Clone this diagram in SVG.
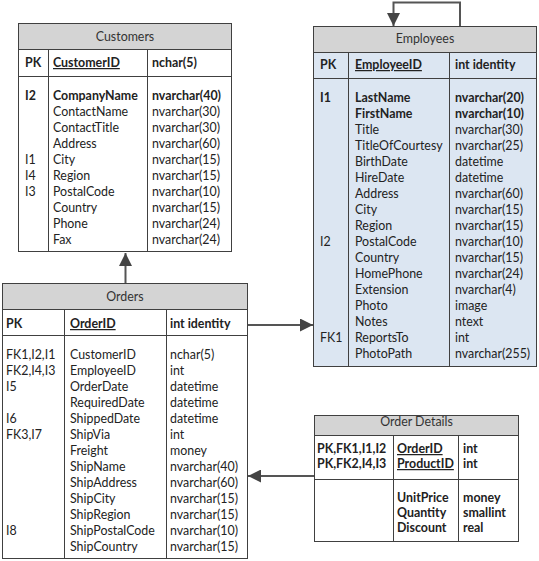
<svg xmlns="http://www.w3.org/2000/svg" width="539" height="561" viewBox="0 0 539 561">
<defs>
<style>
text{font-family:Lato,"Liberation Sans",sans-serif;font-size:12.4px;fill:#222;}
.t{text-anchor:middle;fill:#333;}
.b{font-weight:bold;}
.u{text-decoration:underline;}
.box{fill:#fff;stroke:#404040;stroke-width:1;}
.blue{fill:#dce6f2;}
.hdr{fill:#d4d4d4;stroke:#404040;stroke-width:1;}
.ln{stroke:#404040;stroke-width:1;fill:none;}
.con{stroke:#555;stroke-width:2;fill:none;marker-end:url(#ah);}
</style>
<marker id="ah" markerUnits="userSpaceOnUse" markerWidth="13" markerHeight="13" refX="13" refY="6.5" orient="auto">
<path d="M0,0 L13,6.5 L0,13 Z" fill="#444"/>
</marker>
</defs>

<g id="customers">
<rect class="box" x="18.5" y="23.5" width="213" height="228"/>
<rect class="hdr" x="18.5" y="23.5" width="213" height="26"/>
<line class="ln" x1="18.5" y1="76.5" x2="231.5" y2="76.5"/>
<line class="ln" x1="48.5" y1="49.5" x2="48.5" y2="251.5"/>
<line class="ln" x1="147.5" y1="49.5" x2="147.5" y2="251.5"/>
<text class="t" x="125" y="41">Customers</text>
<text class="b" x="25" y="67">PK</text>
<text class="b u" x="53" y="67">CustomerID</text>
<text class="b" x="152" y="67">nchar(5)</text>
<text class="b" x="25" y="100">I2</text>
<text x="25" y="164">I1</text>
<text x="25" y="180">I4</text>
<text x="25" y="196">I3</text>
<text class="b" x="53" y="100">CompanyName</text>
<text x="53" y="116">ContactName</text>
<text x="53" y="132">ContactTitle</text>
<text x="53" y="148">Address</text>
<text x="53" y="164">City</text>
<text x="53" y="180">Region</text>
<text x="53" y="196">PostalCode</text>
<text x="53" y="212">Country</text>
<text x="53" y="228">Phone</text>
<text x="53" y="244">Fax</text>
<text class="b" x="152" y="100">nvarchar(40)</text>
<text x="152" y="116">nvarchar(30)</text>
<text x="152" y="132">nvarchar(30)</text>
<text x="152" y="148">nvarchar(60)</text>
<text x="152" y="164">nvarchar(15)</text>
<text x="152" y="180">nvarchar(15)</text>
<text x="152" y="196">nvarchar(10)</text>
<text x="152" y="212">nvarchar(15)</text>
<text x="152" y="228">nvarchar(24)</text>
<text x="152" y="244">nvarchar(24)</text>
</g>

<g id="employees">
<rect class="box blue" x="313.5" y="26.5" width="223" height="340"/>
<rect class="hdr" x="313.5" y="26.5" width="223" height="26"/>
<line class="ln" x1="313.5" y1="78.5" x2="536.5" y2="78.5"/>
<line class="ln" x1="348.5" y1="52.5" x2="348.5" y2="366.5"/>
<line class="ln" x1="449.5" y1="52.5" x2="449.5" y2="366.5"/>
<text class="t" x="425" y="43">Employees</text>
<text class="b" x="320" y="69">PK</text>
<text class="b u" x="355" y="69">EmployeeID</text>
<text class="b" x="455" y="69">int identity</text>
<text class="b" x="320" y="102">I1</text>
<text x="320" y="246">I2</text>
<text x="320" y="342">FK1</text>
<text class="b" x="355" y="102">LastName</text>
<text class="b" x="355" y="118">FirstName</text>
<text x="355" y="134">Title</text>
<text x="355" y="150">TitleOfCourtesy</text>
<text x="355" y="166">BirthDate</text>
<text x="355" y="182">HireDate</text>
<text x="355" y="198">Address</text>
<text x="355" y="214">City</text>
<text x="355" y="230">Region</text>
<text x="355" y="246">PostalCode</text>
<text x="355" y="262">Country</text>
<text x="355" y="278">HomePhone</text>
<text x="355" y="294">Extension</text>
<text x="355" y="310">Photo</text>
<text x="355" y="326">Notes</text>
<text x="355" y="342">ReportsTo</text>
<text x="355" y="358">PhotoPath</text>
<text class="b" x="455" y="102">nvarchar(20)</text>
<text class="b" x="455" y="118">nvarchar(10)</text>
<text x="455" y="134">nvarchar(30)</text>
<text x="455" y="150">nvarchar(25)</text>
<text x="455" y="166">datetime</text>
<text x="455" y="182">datetime</text>
<text x="455" y="198">nvarchar(60)</text>
<text x="455" y="214">nvarchar(15)</text>
<text x="455" y="230">nvarchar(15)</text>
<text x="455" y="246">nvarchar(10)</text>
<text x="455" y="262">nvarchar(15)</text>
<text x="455" y="278">nvarchar(24)</text>
<text x="455" y="294">nvarchar(4)</text>
<text x="455" y="310">image</text>
<text x="455" y="326">ntext</text>
<text x="455" y="342">int</text>
<text x="455" y="358">nvarchar(255)</text>
</g>

<g id="orders">
<rect class="box" x="2.5" y="283.5" width="245" height="275"/>
<rect class="hdr" x="2.5" y="283.5" width="245" height="26"/>
<line class="ln" x1="2.5" y1="335.5" x2="247.5" y2="335.5"/>
<line class="ln" x1="64.5" y1="309.5" x2="64.5" y2="558.5"/>
<line class="ln" x1="166.5" y1="309.5" x2="166.5" y2="558.5"/>
<text class="t" x="125" y="301">Orders</text>
<text class="b" x="6" y="328">PK</text>
<text class="b u" x="70" y="328">OrderID</text>
<text class="b" x="170" y="328">int identity</text>
<text x="6" y="359">FK1,I2,I1</text>
<text x="6" y="375">FK2,I4,I3</text>
<text x="6" y="391">I5</text>
<text x="6" y="423">I6</text>
<text x="6" y="439">FK3,I7</text>
<text x="6" y="535">I8</text>
<text x="70" y="359">CustomerID</text>
<text x="70" y="375">EmployeeID</text>
<text x="70" y="391">OrderDate</text>
<text x="70" y="407">RequiredDate</text>
<text x="70" y="423">ShippedDate</text>
<text x="70" y="439">ShipVia</text>
<text x="70" y="455">Freight</text>
<text x="70" y="471">ShipName</text>
<text x="70" y="487">ShipAddress</text>
<text x="70" y="503">ShipCity</text>
<text x="70" y="519">ShipRegion</text>
<text x="70" y="535">ShipPostalCode</text>
<text x="70" y="551">ShipCountry</text>
<text x="170" y="359">nchar(5)</text>
<text x="170" y="375">int</text>
<text x="170" y="391">datetime</text>
<text x="170" y="407">datetime</text>
<text x="170" y="423">datetime</text>
<text x="170" y="439">int</text>
<text x="170" y="455">money</text>
<text x="170" y="471">nvarchar(40)</text>
<text x="170" y="487">nvarchar(60)</text>
<text x="170" y="503">nvarchar(15)</text>
<text x="170" y="519">nvarchar(15)</text>
<text x="170" y="535">nvarchar(10)</text>
<text x="170" y="551">nvarchar(15)</text>
</g>

<g id="order-details">
<rect class="box" x="314.5" y="415.5" width="204" height="126"/>
<rect class="hdr" x="314.5" y="415.5" width="204" height="20"/>
<line class="ln" x1="314.5" y1="479.5" x2="518.5" y2="479.5"/>
<line class="ln" x1="393.5" y1="435.5" x2="393.5" y2="541.5"/>
<line class="ln" x1="458.5" y1="435.5" x2="458.5" y2="541.5"/>
<text class="t" x="416.5" y="426">Order Details</text>
<text class="b" x="317" y="453">PK,FK1,I1,I2</text>
<text class="b" x="317" y="468">PK,FK2,I4,I3</text>
<text class="b u" x="397" y="453">OrderID</text>
<text class="b u" x="397" y="468">ProductID</text>
<text class="b" x="463" y="453">int</text>
<text class="b" x="463" y="468">int</text>
<text class="b" x="397" y="502">UnitPrice</text>
<text class="b" x="397" y="517">Quantity</text>
<text class="b" x="397" y="532">Discount</text>
<text class="b" x="463" y="502">money</text>
<text class="b" x="463" y="517">smallint</text>
<text class="b" x="463" y="532">real</text>
</g>

<g id="connectors">
<path class="con" d="M125.5,283 L125.5,253"/>
<path class="con" d="M248,325 L313,325"/>
<path class="con" d="M314,476 L248,476"/>
<path class="con" d="M460,26 L460,2.5 L393.5,2.5 L393.5,26"/>
</g>
</svg>
